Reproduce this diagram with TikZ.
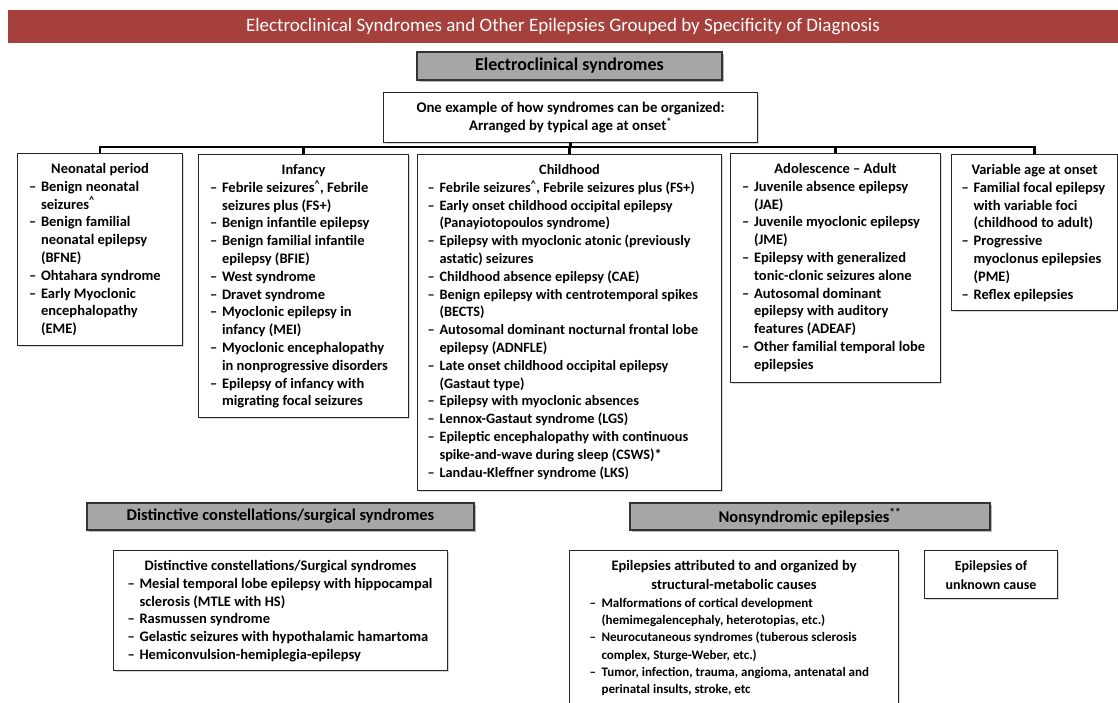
\documentclass[tikz,border=0pt]{standalone}
\usepackage{fontspec}
\setmainfont{Carlito}
\usetikzlibrary{shadows}
\definecolor{titlered}{RGB}{166,64,60}
\definecolor{hdrgray}{RGB}{166,166,166}
\newcommand\dsh{\makebox[12pt][l]{–}}
\newcommand\itm{\par\hangindent=12pt\hangafter=1\noindent\dsh}
\newcommand\boxtext[3]{\vbox to #2{\hsize=#1\relax\parindent=0pt\parskip=0pt\rightskip=0pt plus 3em\relax\leavevmode\rule{0pt}{20pt}#3\par\vfil}}
\newcommand\ctr[1]{{\leftskip=0pt plus 1fil\rightskip=0pt plus 1fil\parfillskip=0pt #1\par}}
\newcommand\crt{\textsuperscript{\textasciicircum}}
\newcommand\bfs[2]{\fontsize{#1}{#2}\selectfont\bfseries}
\tikzset{
  wbox/.style={draw=black!85, line width=1.1pt, fill=white, anchor=north west,
    inner xsep=11.5pt, inner ysep=0pt, font=\bfs{14.5}{17.8},
    drop shadow={shadow xshift=1.5pt, shadow yshift=-1.5pt, fill=black!30}},
  graybox/.style={draw=black!80, line width=1.1pt, fill=hdrgray, inner sep=0pt,
    font=\bfs{16.5}{18},
    drop shadow={shadow xshift=2pt, shadow yshift=-2pt, fill=black!55}},
  titlebar/.style={fill=titlered, inner sep=0pt, text=white,
    font=\fontsize{19}{22}\selectfont},
  conn/.style={line width=2.6pt, black},
}
\begin{document}
\begin{tikzpicture}[x=1pt, y=-1pt]
\useasboundingbox (0,0) rectangle (1118,702);

\node[titlebar, minimum width=1110pt, minimum height=33pt] (title) at (563,26.5)
  {Electroclinical Syndromes and Other Epilepsies Grouped by Specificity of Diagnosis};

\node[graybox, minimum width=305pt, minimum height=28pt, font=\bfs{18}{20}] (ecs) at (569.5,66)
  {Electroclinical syndromes};

\node[wbox, inner xsep=4pt, font=\bfs{14.8}{18}] (ex) at (383,92) {\boxtext{366pt}{50pt}{%
  \ctr{One example of how syndromes can be organized:\break
  Arranged by typical age at onset\textsuperscript{*}}}};

\node[wbox] (neo) at (17,153) {\boxtext{142pt}{192pt}{%
  \ctr{Neonatal period}%
  \itm Benign neonatal\newline seizures\crt
  \itm Benign familial\newline neonatal epilepsy\newline (BFNE)
  \itm Ohtahara syndrome
  \itm Early Myoclonic\newline encephalopathy\newline (EME)}};

\node[wbox] (inf) at (198,154) {\boxtext{187pt}{263pt}{%
  \ctr{Infancy}%
  \itm Febrile seizures\crt, Febrile\newline seizures plus (FS+)
  \itm Benign infantile epilepsy
  \itm Benign familial infantile\newline epilepsy (BFIE)
  \itm West syndrome
  \itm Dravet syndrome
  \itm Myoclonic epilepsy in\newline infancy (MEI)
  \itm Myoclonic encephalopathy\newline in nonprogressive disorders
  \itm Epilepsy of infancy with\newline migrating focal seizures}};

\node[wbox, inner xsep=10pt, font=\bfs{14.3}{17.8}] (chi) at (417,154) {\boxtext{284pt}{336pt}{%
  \ctr{Childhood}%
  \itm Febrile seizures\crt, Febrile seizures plus (FS+)
  \itm Early onset childhood occipital epilepsy\newline (Panayiotopoulos syndrome)
  \itm Epilepsy with myoclonic atonic (previously\newline astatic) seizures
  \itm Childhood absence epilepsy (CAE)
  \itm Benign epilepsy with centrotemporal spikes\newline (BECTS)
  \itm Autosomal dominant nocturnal frontal lobe\newline epilepsy (ADNFLE)
  \itm Late onset childhood occipital epilepsy\newline (Gastaut type)
  \itm Epilepsy with myoclonic absences
  \itm Lennox-Gastaut syndrome (LGS)
  \itm Epileptic encephalopathy with continuous\newline spike-and-wave during sleep (CSWS)*
  \itm Landau-Kleffner syndrome (LKS)}};

\node[wbox] (ado) at (730,153) {\boxtext{187pt}{229pt}{%
  \ctr{Adolescence – Adult}%
  \itm Juvenile absence epilepsy\newline (JAE)
  \itm Juvenile myoclonic epilepsy\newline (JME)
  \itm Epilepsy with generalized\newline tonic-clonic seizures alone
  \itm Autosomal dominant\newline epilepsy with auditory\newline features (ADEAF)
  \itm Other familial temporal lobe\newline epilepsies}};

\node[wbox, inner xsep=10pt] (var) at (951,154) {\boxtext{146pt}{156pt}{%
  \ctr{Variable age at onset}%
  \itm Familial focal epilepsy\newline with variable foci\newline (childhood to adult)
  \itm Progressive\newline myoclonus epilepsies\newline (PME)
  \itm Reflex epilepsies}};

\coordinate (bar) at (0,147);
\draw[conn] (neo.north) -- (neo.north |- bar) -- (var.north |- bar) -- (var.north);
\draw[conn] (inf.north) -- (inf.north |- bar);
\draw[conn] (chi.north) -- (chi.north |- bar);
\draw[conn] (ado.north) -- (ado.north |- bar);
\draw[conn] (ex.south) -- (ex.south |- bar);

\node[graybox, minimum width=387pt, minimum height=27pt] (dch) at (280.5,516.5)
  {Distinctive constellations/surgical syndromes};
\node[graybox, minimum width=360pt, minimum height=27pt] (nse) at (810,516.5)
  {Nonsyndromic epilepsies\textsuperscript{**}};

\node[wbox, inner xsep=14pt] (dis) at (113,550) {\boxtext{306pt}{120pt}{%
  \ctr{Distinctive constellations/Surgical syndromes}%
  \itm Mesial temporal lobe epilepsy with hippocampal\newline sclerosis (MTLE with HS)
  \itm Rasmussen syndrome
  \itm Gelastic seizures with hypothalamic hamartoma
  \itm Hemiconvulsion-hemiplegia-epilepsy}};

\node[wbox, inner xsep=20pt, font=\bfs{13}{17.3}] (str) at (569,550) {\boxtext{289pt}{165pt}{%
  \ctr{\bfs{14.5}{19.3}Epilepsies attributed to and organized by\break structural-metabolic causes}%
  \itm Malformations of cortical development\newline (hemimegalencephaly, heterotopias, etc.)
  \itm Neurocutaneous syndromes (tuberous sclerosis\newline complex, Sturge-Weber, etc.)
  \itm Tumor, infection, trauma, angioma, antenatal and\newline perinatal insults, stroke, etc}};

\node[wbox, inner xsep=4pt] (unk) at (924,550) {\boxtext{125pt}{48pt}{%
  \ctr{\bfs{14}{19.3}Epilepsies of\break unknown cause}}};
\end{tikzpicture}
\end{document}
